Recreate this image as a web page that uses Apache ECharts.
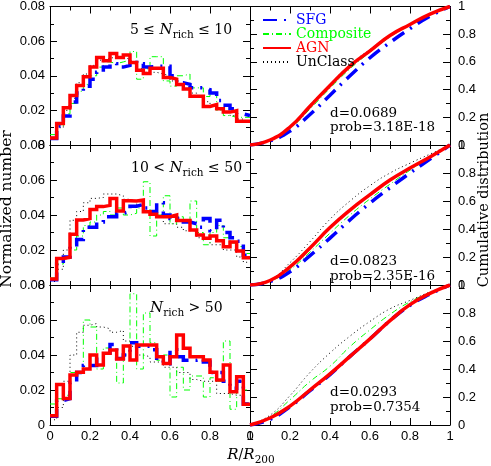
<!DOCTYPE html>
<html>
<head>
<meta charset="utf-8">
<script src="https://cdn.jsdelivr.net/npm/echarts@6/dist/echarts.min.js"></script>
<style>
  html, body { margin: 0; padding: 0; background: #fff; }
  #chart { width: 491px; height: 466px; }
</style>
</head>
<body>
<div id="chart"></div>
<script>
// histogram bins: 30 bins over R/R200 = 0..1
const binEdges = Array.from({ length: 31 }, (_, k) => k / 30)
const cdfX = [0, 0.1, 0.2, 0.3, 0.4, 0.5, 0.6, 0.7, 0.8, 0.9, 1]

// 5 <= Nrich <= 10
const sfgHist1 = [0.0038, 0.011, 0.0168, 0.0248, 0.030, 0.034, 0.038, 0.042, 0.045, 0.047, 0.045, 0.046, 0.049, 0.047, 0.045, 0.0455, 0.0455, 0.0455, 0.040, 0.036, 0.035, 0.033, 0.033, 0.032, 0.030, 0.0257, 0.023, 0.021, 0.018, 0.017]
const compHist1 = [0.006, 0.011, 0.018, 0.024, 0.031, 0.035, 0.040, 0.045, 0.048, 0.047, 0.048, 0.049, 0.054, 0.038, 0.044, 0.051, 0.051, 0.037, 0.034, 0.040, 0.041, 0.033, 0.033, 0.028, 0.030, 0.020, 0.017, 0.016, 0.016, 0.016]
const agnHist1 = [0.0040, 0.0124, 0.0215, 0.0286, 0.0343, 0.0394, 0.0451, 0.0505, 0.0486, 0.0528, 0.0505, 0.052, 0.0476, 0.0432, 0.0413, 0.0444, 0.0444, 0.039, 0.0381, 0.0349, 0.0324, 0.0282, 0.0282, 0.0223, 0.0234, 0.021, 0.019, 0.0198, 0.0137, 0.0137]
const uncHist1 = [0.004, 0.010, 0.020, 0.027, 0.036, 0.041, 0.046, 0.049, 0.050, 0.051, 0.050, 0.050, 0.047, 0.044, 0.042, 0.042, 0.041, 0.040, 0.037, 0.035, 0.032, 0.030, 0.028, 0.025, 0.023, 0.021, 0.019, 0.017, 0.015, 0.013]

// 10 < Nrich <= 50
const sfgHist2 = [0.003, 0.012, 0.016, 0.023, 0.026, 0.033, 0.033, 0.036, 0.039, 0.039, 0.041, 0.042, 0.045, 0.046, 0.044, 0.042, 0.047, 0.040, 0.038, 0.038, 0.036, 0.035, 0.033, 0.038, 0.031, 0.037, 0.030, 0.027, 0.025, 0.017]
const compHist2 = [0.004, 0.012, 0.015, 0.020, 0.028, 0.034, 0.036, 0.040, 0.042, 0.040, 0.044, 0.040, 0.041, 0.044, 0.059, 0.028, 0.040, 0.051, 0.035, 0.039, 0.036, 0.048, 0.030, 0.023, 0.030, 0.034, 0.027, 0.024, 0.022, 0.018]
const agnHist2 = [0.0035, 0.0152, 0.0158, 0.029, 0.0371, 0.038, 0.0432, 0.0448, 0.0455, 0.0495, 0.0423, 0.0482, 0.048, 0.0486, 0.0419, 0.0404, 0.039, 0.039, 0.040, 0.0368, 0.0368, 0.0314, 0.0286, 0.0267, 0.028, 0.0253, 0.0219, 0.0246, 0.0194, 0.0156]
const uncHist2 = [0.002, 0.009, 0.020, 0.037, 0.042, 0.047, 0.0495, 0.050, 0.052, 0.052, 0.051, 0.049, 0.048, 0.045, 0.042, 0.040, 0.040, 0.035, 0.035, 0.033, 0.031, 0.031, 0.027, 0.027, 0.023, 0.023, 0.020, 0.020, 0.016, 0.013]

// Nrich > 50
const sfgHist3 = [0.005, 0.014, 0.015, 0.024, 0.030, 0.034, 0.034, 0.039, 0.039, 0.046, 0.038, 0.040, 0.047, 0.045, 0.045, 0.043, 0.037, 0.035, 0.043, 0.039, 0.037, 0.037, 0.038, 0.036, 0.030, 0.030, 0.025, 0.021, 0.025, 0.012]
const compHist3 = [0.012, 0.015, 0.017, 0.030, 0.031, 0.060, 0.056, 0.032, 0.044, 0.042, 0.024, 0.040, 0.075, 0.032, 0.064, 0.047, 0.037, 0.040, 0.016, 0.033, 0.020, 0.028, 0.028, 0.016, 0.027, 0.025, 0.048, 0.009, 0.025, 0.020]
const agnHist3 = [0.0053, 0.0232, 0.0152, 0.0286, 0.0301, 0.032, 0.040, 0.0343, 0.041, 0.0429, 0.0377, 0.0451, 0.0371, 0.0457, 0.0457, 0.0457, 0.039, 0.0352, 0.039, 0.0514, 0.0438, 0.039, 0.039, 0.0371, 0.0301, 0.0257, 0.0343, 0.019, 0.0276, 0.0118]
const uncHist3 = [0.003, 0.010, 0.025, 0.040, 0.053, 0.057, 0.058, 0.056, 0.055, 0.053, 0.054, 0.048, 0.045, 0.040, 0.039, 0.036, 0.036, 0.033, 0.033, 0.030, 0.030, 0.026, 0.025, 0.025, 0.025, 0.018, 0.018, 0.017, 0.017, 0.012]

// cumulative distributions, read at cdfX
const sfgCdf1 = [0, 0.03, 0.10, 0.22, 0.36, 0.50, 0.63, 0.74, 0.84, 0.93, 1]
const compCdf1 = [0, 0.035, 0.12, 0.26, 0.41, 0.55, 0.67, 0.78, 0.865, 0.94, 1]
const agnCdf1 = [0, 0.036, 0.13, 0.28, 0.43, 0.57, 0.68, 0.79, 0.87, 0.945, 1]
const uncCdf1 = [0, 0.035, 0.135, 0.29, 0.44, 0.58, 0.69, 0.795, 0.875, 0.945, 1]

const sfgCdf2 = [0, 0.025, 0.095, 0.21, 0.335, 0.465, 0.585, 0.695, 0.80, 0.90, 1]
const compCdf2 = [0, 0.028, 0.11, 0.235, 0.37, 0.50, 0.615, 0.72, 0.82, 0.91, 1]
const agnCdf2 = [0, 0.032, 0.13, 0.265, 0.41, 0.535, 0.645, 0.75, 0.835, 0.915, 1]
const uncCdf2 = [0, 0.035, 0.16, 0.31, 0.47, 0.60, 0.71, 0.80, 0.87, 0.935, 1]

const sfgCdf3 = [0, 0.04, 0.13, 0.245, 0.36, 0.49, 0.615, 0.745, 0.855, 0.935, 1]
const compCdf3 = [0, 0.06, 0.18, 0.31, 0.42, 0.56, 0.68, 0.79, 0.88, 0.945, 1]
const agnCdf3 = [0, 0.05, 0.135, 0.25, 0.365, 0.49, 0.615, 0.745, 0.86, 0.94, 1]
const uncCdf3 = [0, 0.07, 0.21, 0.375, 0.515, 0.635, 0.74, 0.83, 0.89, 0.95, 1]

const ksD = ['d=0.0689', 'd=0.0823', 'd=0.0293']
const ksProb = ['prob=3.18E-18', 'prob=2.35E-16', 'prob=0.7354']

const histRows = [
  [sfgHist1, compHist1, agnHist1, uncHist1],
  [sfgHist2, compHist2, agnHist2, uncHist2],
  [sfgHist3, compHist3, agnHist3, uncHist3]
]
const cdfRows = [
  [sfgCdf1, compCdf1, agnCdf1, uncCdf1],
  [sfgCdf2, compCdf2, agnCdf2, uncCdf2],
  [sfgCdf3, compCdf3, agnCdf3, uncCdf3]
]

const NUM_FONT = 'Liberation Sans'
const TXT_FONT = 'DejaVu Serif'

const classes = [
  { name: 'SFG', color: '#0000ff', width: 3.5, type: [14, 7, 2, 7] },
  { name: 'Composite', color: '#00ff00', width: 1, type: [6, 3, 1, 3] },
  { name: 'AGN', color: '#ff0000', width: 3.5, type: 'solid' },
  { name: 'UnClass', color: '#000000', width: 1, type: [1, 3] }
]
const drawOrder = [3, 1, 0, 2] // red drawn last

const rowTops = [5, 145, 285]
const grids = []
const xAxes = []
const yAxes = []
const series = []

const frame = { show: true, onZero: false, lineStyle: { color: '#000', width: 1 } }

function stepData (hist) {
  return binEdges.map((x, k) => [x, hist[Math.min(k, hist.length - 1)]])
}

for (let row = 0; row < 3; row++) {
  for (let col = 0; col < 2; col++) {
    const g = grids.length
    grids.push({ left: col ? 250 : 50, top: rowTops[row], width: 200, height: 140 })

    const xBase = {
      gridIndex: g, type: 'value', min: 0, max: 1, interval: 0.2,
      axisLine: frame,
      axisTick: { inside: true, length: 7, lineStyle: { color: '#000' } },
      minorTick: { show: true, splitNumber: 2, length: 4, lineStyle: { color: '#000' } },
      splitLine: { show: false }
    }
    xAxes.push(Object.assign({}, xBase, {
      position: 'bottom',
      axisLabel: { show: row === 2, margin: 5, fontFamily: NUM_FONT, fontSize: 13, color: '#000', showMinLabel: true, showMaxLabel: true }
    }))
    xAxes.push(Object.assign({}, xBase, { position: 'top', axisLabel: { show: false } }))

    const yMax = col ? 1 : 0.08
    const yInt = col ? 0.2 : 0.02
    const yBase = {
      gridIndex: g, type: 'value', min: 0, max: yMax, interval: yInt,
      axisLine: frame,
      axisTick: { inside: true, length: 7, lineStyle: { color: '#000' } },
      minorTick: { show: true, splitNumber: 2, length: 4, lineStyle: { color: '#000' } },
      splitLine: { show: false }
    }
    const mainPos = col ? 'right' : 'left'
    const otherPos = col ? 'left' : 'right'
    yAxes.push(Object.assign({}, yBase, {
      position: mainPos,
      axisLabel: { show: true, margin: col ? 8 : 5, fontFamily: NUM_FONT, fontSize: 13, color: '#000', showMinLabel: true, showMaxLabel: true }
    }))
    yAxes.push(Object.assign({}, yBase, { position: otherPos, axisLabel: { show: false } }))

    drawOrder.forEach(c => {
      const cls = classes[c]
      const data = col
        ? cdfX.map((x, k) => [x, cdfRows[row][c][k]])
        : stepData(histRows[row][c])
      series.push({
        name: cls.name,
        type: 'line',
        xAxisIndex: g * 2,
        yAxisIndex: g * 2,
        data,
        step: col ? false : 'end',
        smooth: col ? 0.5 : false,
        symbol: 'none',
        silent: true,
        animation: false,
        lineStyle: { color: cls.color, width: cls.width, type: cls.type, cap: 'butt', join: 'miter' },
        itemStyle: { color: cls.color }
      })
    })
  }
}

const rich = {
  t: { fontFamily: TXT_FONT, fontSize: 14, color: '#000', lineHeight: 22, verticalAlign: 'middle' },
  i: { fontFamily: TXT_FONT, fontSize: 15, fontStyle: 'italic', color: '#000', lineHeight: 22, verticalAlign: 'middle' },
  s: { fontFamily: TXT_FONT, fontSize: 10.5, color: '#000', lineHeight: 10, verticalAlign: 'bottom' }
}

function label (x, y, text, align) {
  return { type: 'text', x, y, silent: true, style: { text, rich, align: align || 'left', verticalAlign: 'middle' } }
}
function plain (x, y, text, size) {
  return { type: 'text', x, y, silent: true, style: { text, fontFamily: TXT_FONT, fontSize: size, fill: '#000', align: 'left', verticalAlign: 'middle' } }
}

const ksY = [[113, 127], [261, 276], [392, 407]]
const graphics = [
  label(130, 30, '{t|5 ≤ }{i|N}{s|rich}{t| ≤ 10}'),
  label(131, 168, '{t|10 < }{i|N}{s|rich}{t| ≤ 50}'),
  label(150, 308, '{i|N}{s|rich}{t| > 50}'),
  label(251, 455, '{i|R}{t|/}{i|R}{s|200}', 'center'),
  {
    type: 'text', x: 7, y: 209, rotation: Math.PI / 2, silent: true,
    style: { text: 'Normalized number', fontFamily: TXT_FONT, fontSize: 15.5, fill: '#000', align: 'center', verticalAlign: 'middle' }
  },
  {
    type: 'text', x: 484, y: 200, rotation: Math.PI / 2, silent: true,
    style: { text: 'Cumulative distribution', fontFamily: TXT_FONT, fontSize: 14.5, fill: '#000', align: 'center', verticalAlign: 'middle' }
  }
]
ksY.forEach((ys, r) => {
  graphics.push(plain(330, ys[0], ksD[r], 13.5))
  graphics.push(plain(330, ys[1], ksProb[r], 13.5))
})

const chart = echarts.init(document.getElementById('chart'), null, { renderer: 'canvas' })
chart.setOption({
  animation: false,
  backgroundColor: '#fff',
  grid: grids,
  xAxis: xAxes,
  yAxis: yAxes,
  legend: {
    left: 257,
    top: 8,
    orient: 'vertical',
    itemWidth: 28,
    itemHeight: 10,
    itemGap: 0,
    selectedMode: false,
    itemStyle: { opacity: 0 },
    data: classes.map(c => ({ name: c.name, textStyle: { color: c.color } })),
    textStyle: { fontFamily: TXT_FONT, fontSize: 14, lineHeight: 14 }
  },
  graphic: graphics,
  series
})
</script>
</body>
</html>
